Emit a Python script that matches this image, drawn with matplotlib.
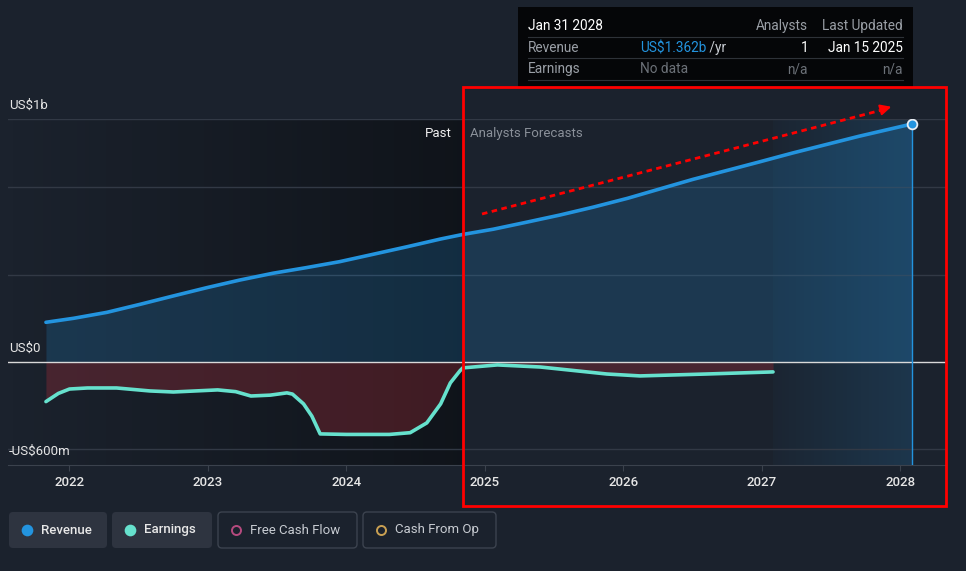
import numpy as np
import matplotlib.pyplot as plt
from matplotlib.patches import FancyBboxPatch, Rectangle

plt.rcParams['font.family'] = ['Roboto', 'DejaVu Sans']

# revenue (US$ m), trailing twelve months, fiscal year ends Jan 31
rev_years = [2021.83, 2022.03, 2022.27, 2022.51, 2022.75, 2022.99, 2023.23, 2023.47,
             2023.71, 2023.95, 2024.19, 2024.44, 2024.68, 2024.84,
             2025.06, 2025.30, 2025.54, 2025.78, 2026.03, 2026.26, 2026.50, 2026.75,
             2026.98, 2027.22, 2027.47, 2027.70, 2028.08]
revenue = [227, 250, 284, 330, 378, 425, 469, 508,
           540, 574, 616, 660, 704, 730,
           760, 800, 841, 886, 937, 990, 1045, 1097,
           1145, 1196, 1246, 1292, 1362]

# earnings (US$ m)
earn_years = [2021.83, 2021.92, 2022.0, 2022.13, 2022.34, 2022.58, 2022.75, 2023.07,
              2023.2, 2023.31, 2023.45, 2023.57, 2023.61, 2023.69, 2023.75, 2023.81,
              2024.0, 2024.31, 2024.46, 2024.58, 2024.68, 2024.75, 2024.82, 2024.84,
              2025.09, 2025.4, 2025.88, 2026.12, 2026.6, 2027.08]
earnings = [-227, -180, -155, -149, -149, -166, -172, -160,
            -170, -195, -190, -177, -184, -240, -310, -412,
            -415, -415, -405, -349, -240, -120, -50, -34,
            -17, -29, -69, -80, -69, -57]

split_year = 2024.84
band_start = 2027.08
x_ticks = [2022, 2023, 2024, 2025, 2026, 2027, 2028]

bg = '#1b222d'
rev_col = '#2394df'
earn_col = '#66e1cd'

fig = plt.figure(figsize=(9.66, 5.71), dpi=100, facecolor=bg)
W, H = 966, 571
ax = fig.add_axes([8 / W, (H - 465) / H, (946 - 8) / W, (465 - 119) / H])
ax.set_facecolor(bg)
x0, x1 = 2021.556, 2028.329
y0, y1 = -590, 1391

# darker past region (gradient)
grad = np.zeros((2, 200, 4))
grad[..., 3] = np.linspace(0.0, 0.42, 200)[None, :]
ax.imshow(grad, extent=(x0, split_year, y0, y1), aspect='auto', zorder=0,
          interpolation='bicubic')

# hover band on the last forecast year
band = np.zeros((2, 200, 4))
band[..., :3] = (0.14, 0.58, 0.87)
band[..., 3] = np.linspace(0.03, 0.18, 200)[None, :]
ax.imshow(band, extent=(band_start, rev_years[-1], y0, y1), aspect='auto', zorder=0,
          interpolation='bicubic')

for g in [-500, 500, 1000, y1]:
    ax.axhline(g, color='#323945', lw=1, zorder=1)
ax.axhline(0, color='#d9d9d9', lw=1, zorder=3)

ax.fill_between(rev_years, revenue, 0, color=rev_col, alpha=0.2, lw=0, zorder=2)
ax.fill_between(earn_years, earnings, 0, color='#c0303c', alpha=0.28, lw=0, zorder=2)

ax.plot(rev_years, revenue, color=rev_col, lw=2.6, zorder=5, solid_capstyle='round')
ax.plot(earn_years, earnings, color=earn_col, lw=2.6, zorder=5, solid_capstyle='round')

ax.axvline(rev_years[-1], color=rev_col, lw=1, zorder=4)
ax.plot(rev_years[-1], revenue[-1], 'o', ms=7, mfc=rev_col, mec='#e8eef5', mew=1.3,
        zorder=6)

ax.axvline(split_year, color='#2a303a', lw=1, zorder=1)

ax.set_xlim(x0, x1)
ax.set_ylim(y0, y1)

for s in ['top', 'right', 'left']:
    ax.spines[s].set_visible(False)
ax.spines['bottom'].set_color('#3b424d')
ax.set_yticks([])
ax.set_xticks(x_ticks)
ax.set_xticklabels([str(t) for t in x_ticks], color='#e6e6e6', fontsize=9.5,
                   fontweight='medium')
ax.tick_params(axis='x', length=4, color='#3b424d', pad=4)

ax.text(x0 + 0.005, y1 + 40, 'US$1b', color='#e6e6e6', fontsize=9.5, va='bottom')
ax.text(x0 + 0.005, 0 + 40, 'US$0', color='#e6e6e6', fontsize=9.5, va='bottom')
ax.text(x0 + 0.005, -500 + 28, '-US$600m', color='#e6e6e6', fontsize=9.5, va='top')
ax.text(split_year - 0.08, 1310, 'Past', color='#f0f0f0', fontsize=9.5,
        ha='right', va='center')
ax.text(split_year + 0.05, 1310, 'Analysts Forecasts', color='#8a9099', fontsize=9.5,
        ha='left', va='center')

# overlay in pixel coordinates for tooltip, legend and markup
ov = fig.add_axes([0, 0, 1, 1], zorder=10)
ov.set_xlim(0, W)
ov.set_ylim(H, 0)
ov.axis('off')
ov.patch.set_alpha(0)

# tooltip
ov.add_patch(Rectangle((518, 7), 395, 80, facecolor='#050608', edgecolor='none'))
for ly in [37, 58, 80]:
    ov.plot([528, 903], [ly, ly], color='#2e3238', lw=0.8)
fs = 9.8
ov.text(528, 26, 'Jan 31 2028', color='#ffffff', fontsize=fs, va='center')
ov.text(808, 26, 'Analysts', color='#9a9fa6', fontsize=fs, va='center', ha='right')
ov.text(903, 26, 'Last Updated', color='#9a9fa6', fontsize=fs, va='center', ha='right')
ov.text(528, 48, 'Revenue', color='#9a9fa6', fontsize=fs, va='center')
t = ov.text(640, 48, 'US$1.362b', color=rev_col, fontsize=fs, va='center')
ov.annotate(' /yr', xycoords=t, xy=(1, 0.5), va='center', color='#c8ccd2', fontsize=fs)
ov.text(808, 48, '1', color='#ffffff', fontsize=fs, va='center', ha='right')
ov.text(903, 48, 'Jan 15 2025', color='#ffffff', fontsize=fs, va='center', ha='right')
ov.text(528, 69, 'Earnings', color='#9a9fa6', fontsize=fs, va='center')
ov.text(640, 69, 'No data', color='#6c7178', fontsize=fs, va='center')
ov.text(808, 69, 'n/a', color='#6c7178', fontsize=fs, va='center', ha='right')
ov.text(903, 69, 'n/a', color='#6c7178', fontsize=fs, va='center', ha='right')

# red highlight box and arrow
ov.add_patch(Rectangle((463, 87), 483, 419, facecolor='none', edgecolor='#ff0000',
                       lw=2))
ov.plot([482, 882], [214, 110], color='#ff0000', lw=2, ls=(0, (2, 1.6)))
ov.annotate('', xy=(894, 106), xytext=(880, 110),
            arrowprops=dict(arrowstyle='-|>', color='#ff0000', lw=1.5,
                            mutation_scale=16))

# legend buttons
buttons = [
    ('Revenue', 9, 98, True, rev_col, True),
    ('Earnings', 112, 100, True, earn_col, True),
    ('Free Cash Flow', 218, 139, False, '#b54a7e', False),
    ('Cash From Op', 363, 133, False, '#c9a052', False),
]
for label, bx, bw, filled, dot_col, dot_fill in buttons:
    ov.add_patch(FancyBboxPatch((bx, 512), bw, 36,
                                boxstyle='round,pad=0,rounding_size=4',
                                facecolor='#2e3440' if filled else 'none',
                                edgecolor='none' if filled else '#3c434f', lw=1))
    ov.plot(bx + 18, 530, 'o', ms=7 if dot_fill else 6.5,
            mfc=dot_col if dot_fill else 'none', mec=dot_col, mew=1.4)
    ov.text(bx + 32, 530, label, color='#e8e8e8' if filled else '#c7cbd1',
            fontsize=9.5, va='center', fontweight='medium' if filled else 'normal')

fig.savefig('out.png', dpi=100, facecolor=bg)
